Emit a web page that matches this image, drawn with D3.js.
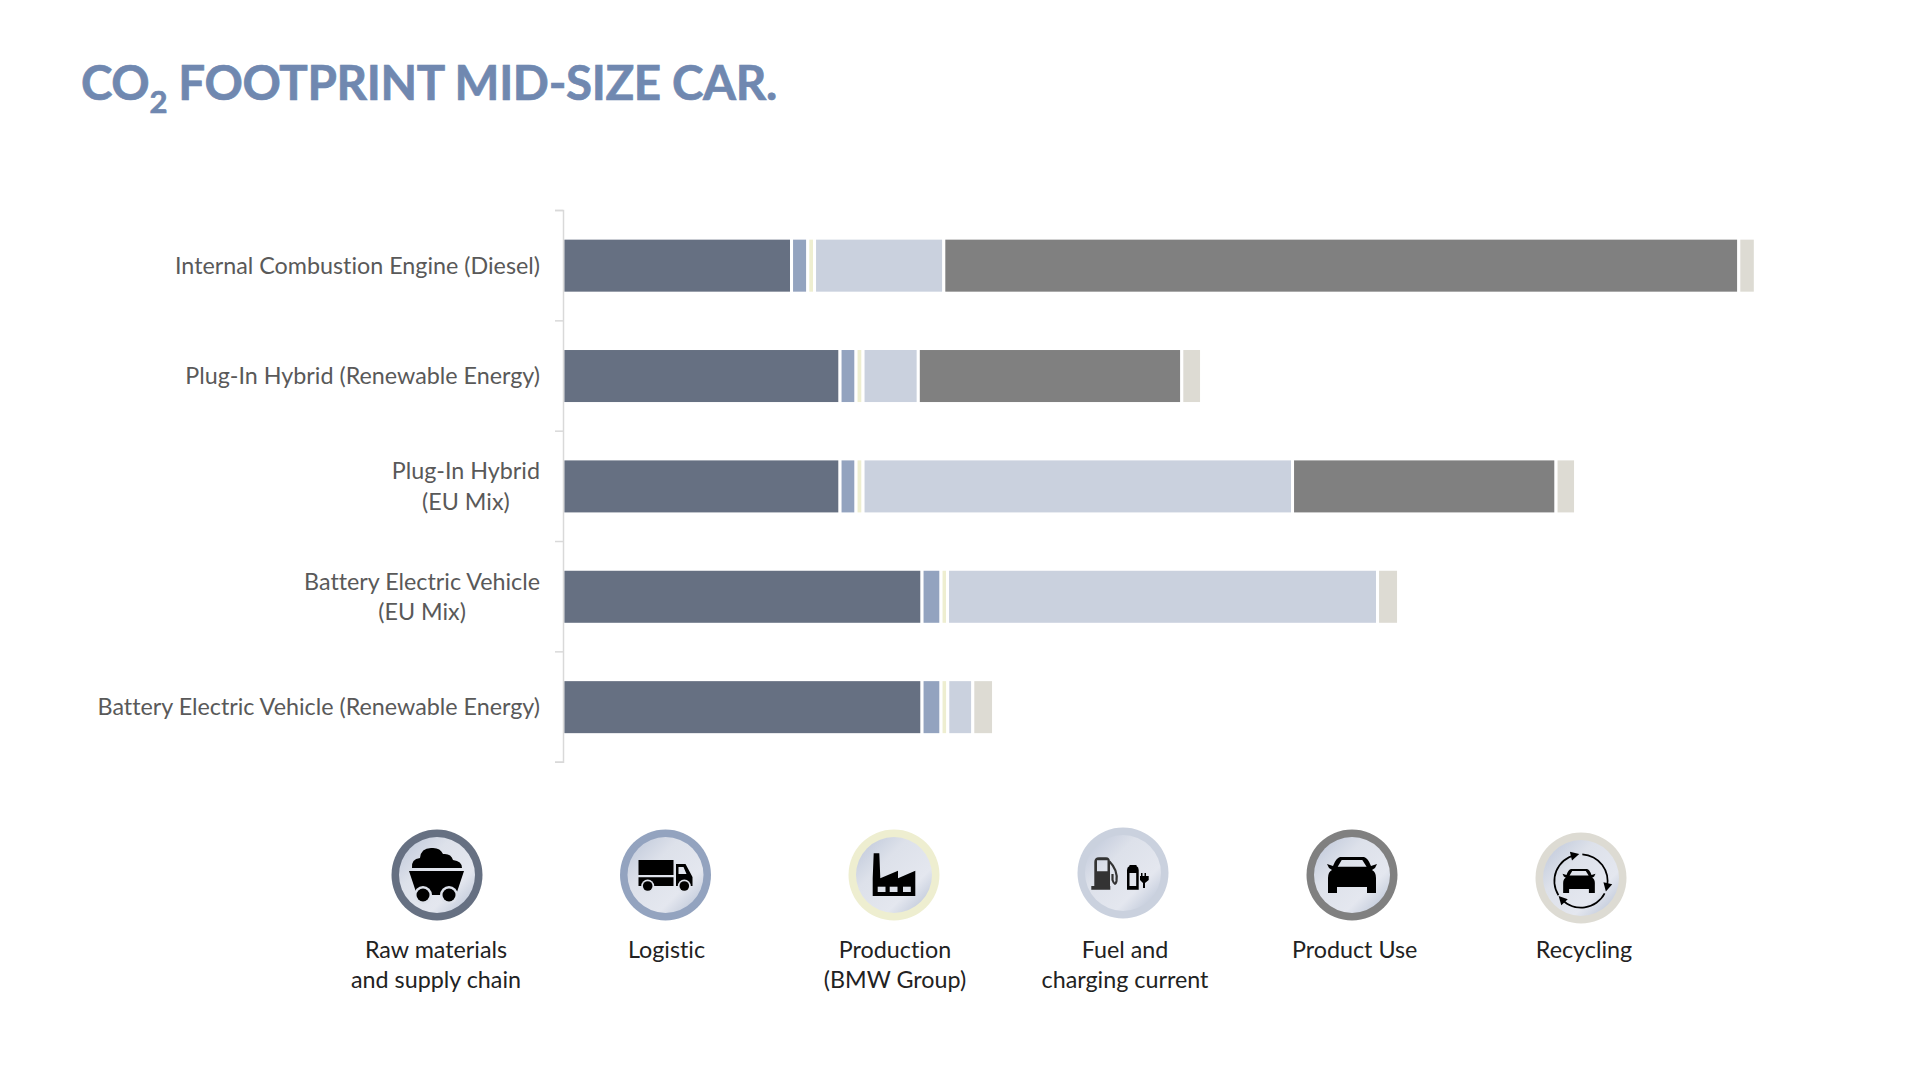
<!DOCTYPE html>
<html>
<head>
<meta charset="utf-8">
<script src="https://cdn.jsdelivr.net/npm/d3@7"></script>
<style>
  body { margin: 0; background: #fff; }
  text { font-family: Lato, "Open Sans", sans-serif; font-variant-ligatures: none; }
</style>
</head>
<body>
<div id="chart"></div>
<script>
// Data (t CO2 per car, estimated)
const categories = [
  ["Internal Combustion Engine (Diesel)"],
  ["Plug-In Hybrid (Renewable Energy)"],
  ["Plug-In Hybrid", "(EU Mix)"],
  ["Battery Electric Vehicle", "(EU Mix)"],
  ["Battery Electric Vehicle (Renewable Energy)"]
];
const rawMaterials = [9.15, 11.09, 11.09, 14.37, 14.37];
const logistic     = [0.65, 0.64, 0.64, 0.76, 0.76];
const production   = [0.27, 0.28, 0.28, 0.26, 0.27];
const fuel         = [5.17, 2.21, 17.18, 17.2, 1.0];
const productUse   = [31.8, 10.54, 10.54, 0, 0];
const recycling    = [0.66, 0.79, 0.78, 0.84, 0.83];

const seriesKeys = ["raw", "logistic", "production", "fuel", "use", "recycling"];
const seriesColors = ["#667082", "#93a3bf", "#eeeed0", "#cad1de", "#808080", "#dddbd3"];
const legendLabels = [
  ["Raw materials", "and supply chain"],
  ["Logistic"],
  ["Production", "(BMW Group)"],
  ["Fuel and", "charging current"],
  ["Product Use"],
  ["Recycling"]
];

const width = 1920, height = 1074;
const svg = d3.select("#chart").append("svg")
  .attr("width", width).attr("height", height);

// Title
const title = svg.append("text")
  .attr("x", 81).attr("y", 100)
  .attr("font-size", 47.5).attr("font-weight", 700).attr("fill", "#7088b0")
  .attr("stroke", "#7088b0").attr("stroke-width", 0.7)
  .attr("letter-spacing", -0.35);
title.append("tspan").text("CO");
title.append("tspan").text("2").attr("font-size", 31).attr("dy", 13);
title.append("tspan").text(" FOOTPRINT MID-SIZE CAR.").attr("dy", -13);

// Scales
const rows = categories.map((c, i) => ({
  i, raw: rawMaterials[i], logistic: logistic[i], production: production[i],
  fuel: fuel[i], use: productUse[i], recycling: recycling[i]
}));
const x = d3.scaleLinear().domain([0, 48]).range([562.8, 1762.8]);
const y = d3.scaleBand().domain(d3.range(categories.length))
  .range([210, 761.7]).paddingInner(0.5015).paddingOuter(0.25).align(0.51);

// Bars
const stack = d3.stack().keys(seriesKeys)(rows);
svg.append("g").selectAll("g").data(stack).join("g")
  .attr("fill", (d, i) => seriesColors[i])
  .selectAll("rect").data(d => d.filter(s => s[1] > s[0])).join("rect")
  .attr("x", d => x(d[0]))
  .attr("y", d => y(d.data.i))
  .attr("width", d => x(d[1]) - x(d[0]))
  .attr("height", y.bandwidth())
  .attr("stroke", "#fff").attr("stroke-width", 3);

// Axis, ticks sit between the categories
const yEdges = d3.scaleLinear().domain([0, categories.length]).range(y.range());
const axis = svg.append("g").attr("transform", "translate(563,0)")
  .call(d3.axisLeft(yEdges).ticks(categories.length).tickFormat("").tickSize(8));
axis.selectAll("path, line").attr("stroke", "#d9d9d9").attr("stroke-width", 1.5);

// Category labels, wrapped ones are centred on their widest line
const labels = svg.append("g").attr("font-size", 23.3).attr("fill", "#595959");
categories.forEach((lines, i) => {
  const cy = y(i) + y.bandwidth() / 2;
  const t = labels.append("text").attr("text-anchor", lines.length > 1 ? "middle" : "end");
  lines.forEach((l, k) => {
    t.append("tspan").text(l)
      .attr("y", cy + (k - (lines.length - 1) / 2) * 30.5)
      .attr("dy", "0.35em");
  });
  if (lines.length > 1) {
    const w = d3.max(t.selectAll("tspan").nodes(), n => n.getComputedTextLength());
    t.selectAll("tspan").attr("x", 540 - w / 2);
  } else {
    t.selectAll("tspan").attr("x", 540);
  }
});

// Legend icons
const defs = svg.append("defs");
const grad = defs.append("linearGradient").attr("id", "disc")
  .attr("x1", 0).attr("y1", 0).attr("x2", 1).attr("y2", 1);
[[0, "#bcc5d8"], [0.35, "#dde1ea"], [0.7, "#e4e7ef"], [0.85, "#cbd2e0"], [1, "#c4ccdc"]]
  .forEach(s => grad.append("stop").attr("offset", s[0]).attr("stop-color", s[1]));

const carPath = "M-12,-18 L12,-18 Q16,-17 19,-9 L25,-11 L23,-7 L20,-5 Q24,-3 24,3 L24,18 L15,18 L15,12 L-15,12 L-15,18 L-24,18 L-24,3 Q-24,-3 -20,-5 L-23,-7 L-25,-11 L-19,-9 Q-16,-17 -12,-18 Z "
  + "M-10.3,-15 L-14.3,-8.3 L14.6,-8.3 L10.3,-15 Z";

const iconDraw = [
  g => { // mine cart
    g.append("path").attr("d", "M-25,-7 Q-26,-16 -17,-17 Q-16,-27 -6,-27 Q3,-28 6,-21 Q14,-22 16,-15 Q25,-14 25,-7 Z");
    g.append("path").attr("d", "M-28,-4 L27,-4 L19,20 L-20,20 Z");
    [-14, 12].forEach(cx => {
      g.append("circle").attr("cx", cx).attr("cy", 20).attr("r", 9).attr("fill", "#dde1ea");
      g.append("circle").attr("cx", cx).attr("cy", 20).attr("r", 6.5);
    });
  },
  g => { // truck
    g.append("path").attr("d", "M-27,-15 L8,-15 L8,0 L-27,0 Z M-27,2.3 L8,2.3 L8,11 L-27,11 Z");
    g.append("path").attr("fill-rule", "evenodd").attr("d", "M10.5,-11 L20,-11 L27,2 L27,11 L10.5,11 Z M13,-8 L13,-1 L21,-1 L18,-8 Z");
    [-17.8, 18.8].forEach(cx => {
      g.append("circle").attr("cx", cx).attr("cy", 11).attr("r", 6.5).attr("fill", "#dde1ea");
      g.append("circle").attr("cx", cx).attr("cy", 11).attr("r", 4.8);
    });
  },
  g => { // factory
    g.append("path").attr("d", "M-21.3,21 L-21.3,3 L-20.3,-21.7 L-14.7,-21.7 L-13.7,3.3 L4,-4.3 L4,3.3 L21.3,-4.3 L21.3,21 Z");
    [-16.3, -4.3, 9].forEach(wx => g.append("rect")
      .attr("x", wx).attr("y", 11.7).attr("width", 7.8).attr("height", 5.3).attr("fill", "#dde1ea"));
  },
  g => { // pump and battery
    g.append("path").attr("fill", "#333").attr("fill-rule", "evenodd")
      .attr("d", "M-28.7,-11 Q-28.7,-15.7 -24,-15.7 L-17,-15.7 Q-13,-15.7 -13,-11 L-13,13 L-12.7,13 L-12.7,16.7 L-31.7,16.7 L-31.7,13 L-28.7,13 Z M-26,-12.7 L-26,-1.7 L-15.5,-1.7 L-15.5,-12.7 Z");
    g.append("path").attr("fill", "none").attr("stroke", "#333").attr("stroke-width", 2.2)
      .attr("d", "M-13.5,-11.5 Q-5,-3 -6.5,8 Q-8,14 -10.5,7 L-10.5,1");
    g.append("path").attr("fill-rule", "evenodd")
      .attr("d", "M4,-3 Q4,-6 6.5,-7 L6.5,-8 L13.5,-8 L13.5,-7 Q15.7,-6 15.7,-3 L15.7,16.7 L4,16.7 Z M6.5,0 L6.5,13 L13.2,13 L13.2,0 Z");
    g.append("path").attr("d", "M18,0 L19.5,0 L19.5,3 L21.5,3 L21.5,0 L23,0 L23,3 L25.7,3 L25.7,7 L22,10 L22,15 L20,15 L20,10 L17,7 L17,3 L18,3 Z");
  },
  g => { // car
    g.append("path").attr("fill-rule", "evenodd").attr("d", carPath);
  },
  g => { // recycling, car inside circular arrows
    g.append("path").attr("fill-rule", "evenodd").attr("d", carPath)
      .attr("transform", "translate(-2,3) scale(0.66)");
    const ring = d3.arc().innerRadius(25.8).outerRadius(27.5);
    const rings = g.append("g").attr("transform", "translate(0,3)");
    [[0.05, 1.8], [2.05, 3.95], [4.15, 6.05]].forEach(a => {
      rings.append("path").attr("d", ring({ startAngle: a[0], endAngle: a[1] }));
      const mx = 26.6 * Math.sin(a[1]), my = -26.6 * Math.cos(a[1]);
      const deg = a[1] * 180 / Math.PI;
      rings.append("path").attr("d", "M-4,-4.5 L4.5,0 L-4,4.5 Z")
        .attr("transform", `translate(${mx},${my}) rotate(${deg})`);
    });
  }
];

const iconCx = [437, 665.5, 894, 1123, 1352, 1581];
const iconCy = [875, 875, 875, 873, 875, 878];
const labelCx = [436, 666.5, 895, 1125, 1354.7, 1584];

const legend = svg.append("g");
legendLabels.forEach((lines, i) => {
  const g = legend.append("g").attr("transform", `translate(${iconCx[i]},${iconCy[i]})`);
  g.append("circle").attr("r", 45.5).attr("fill", seriesColors[i]);
  g.append("circle").attr("r", 38).attr("fill", "url(#disc)");
  iconDraw[i](g.append("g").attr("fill", "#000"));
  const t = legend.append("text").attr("text-anchor", "middle")
    .attr("font-size", 23.3).attr("fill", "#222");
  lines.forEach((l, k) => t.append("tspan").text(l)
    .attr("x", labelCx[i]).attr("y", 958 + k * 30));
});
</script>
</body>
</html>
